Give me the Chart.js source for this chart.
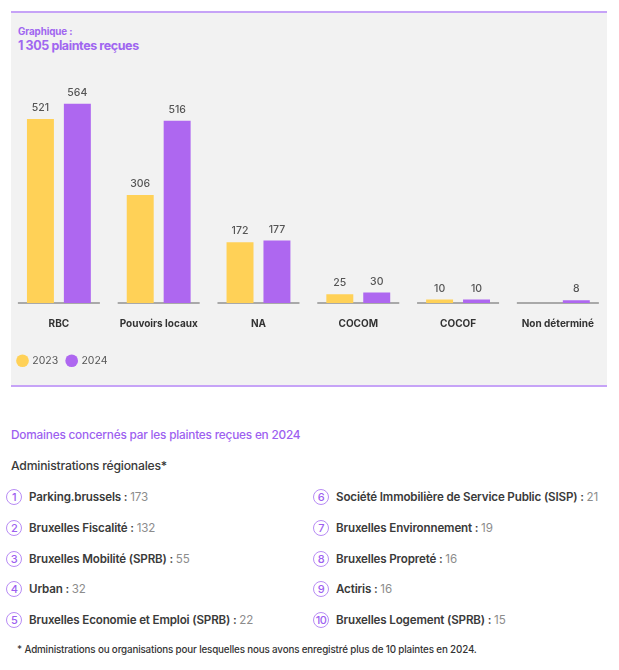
<!DOCTYPE html>
<html>
<head>
<meta charset="utf-8">
<script src="https://cdn.jsdelivr.net/npm/chart.js@4.4.1/dist/chart.umd.min.js"></script>
<style>
  html, body { margin: 0; padding: 0; background: #ffffff; }
  body { width: 619px; height: 670px; position: relative; overflow: hidden; font-family: Inter, "Noto Sans", sans-serif; }
  #panel { position: absolute; left: 11px; top: 11px; width: 596px; height: 376px; background: #f2f2f2;
           border-top: 2px solid #c6a3f7; border-bottom: 2px solid #c6a3f7; box-sizing: border-box; }
  #t1 { position: absolute; left: 18px; top: 26px; font-size: 9.8px; font-weight: 700; color: #a066f0; letter-spacing: -0.1px; }
  #t2 { position: absolute; left: 18px; top: 38px; font-size: 12.5px; font-weight: 700; color: #a066f0; letter-spacing: -0.4px; }
  #chart { position: absolute; left: 9px; top: 56px; }
  #sub { position: absolute; left: 11px; top: 428px; font-size: 11.8px; font-weight: 500; color: #9d5ff0; letter-spacing: -0.2px; }
  #adm { position: absolute; left: 11px; top: 458px; font-size: 12.2px; font-weight: 500; color: #3a3a3a; letter-spacing: -0.2px; }
  .item { position: absolute; font-size: 11.6px; letter-spacing: -0.15px; white-space: nowrap; line-height: 14px; }
  .num { position: absolute; width: 14px; height: 14px; border: 1.3px solid #b88cf5; border-radius: 50%;
         color: #9d5ff0; font-size: 11px; line-height: 14px; text-align: center; font-weight: 500; letter-spacing: -0.6px; }
  .lab { position: absolute; font-weight: 600; color: #3a3a3a; }
  .val { color: #8c8c8c; font-weight: 400; }
  #foot { position: absolute; left: 17px; top: 644px; font-size: 9.8px; color: #333; letter-spacing: -0.15px; font-weight: 500; }
</style>
</head>
<body>
<div id="panel"></div>
<div id="t1">Graphique :</div>
<div id="t2">1 305 plaintes reçues</div>
<canvas id="chart" width="600" height="330"></canvas>
<div id="sub">Domaines concernés par les plaintes reçues en 2024</div>
<div id="adm">Administrations régionales*</div>
<div id="list"></div>
<div id="foot">* Administrations ou organisations pour lesquelles nous avons enregistré plus de 10 plaintes en 2024.</div>
<script>
const categories = ['RBC', 'Pouvoirs locaux', 'NA', 'COCOM', 'COCOF', 'Non déterminé'];
const seriesNames = ['2023', '2024'];
const values2023 = [521, 306, 172, 25, 10, null];
const values2024 = [564, 516, 177, 30, 10, 8];
const yTicks = [0, 600];

const domainNames = ['Parking.brussels', 'Bruxelles Fiscalité', 'Bruxelles Mobilité (SPRB)', 'Urban',
  'Bruxelles Economie et Emploi (SPRB)', 'Société Immobilière de Service Public (SISP)',
  'Bruxelles Environnement', 'Bruxelles Propreté', 'Actiris', 'Bruxelles Logement (SPRB)'];
const domainCounts = [173, 132, 55, 32, 22, 21, 19, 16, 16, 15];

const YELLOW = '#ffd157';
const PURPLE = '#ae67f0';

const baselinePlugin = {
  id: 'baseline',
  beforeDatasetsDraw(chart) {
    const {ctx, scales: {x, y}} = chart;
    const y0 = y.getPixelForValue(0);
    ctx.save();
    ctx.strokeStyle = '#a9a9a9';
    ctx.lineWidth = 2;
    categories.forEach((c, i) => {
      const cx = x.getPixelForValue(i);
      ctx.beginPath();
      ctx.moveTo(cx - 41, y0);
      ctx.lineTo(cx + 41, y0);
      ctx.stroke();
    });
    ctx.restore();
  }
};

const labelPlugin = {
  id: 'valueLabels',
  afterDatasetsDraw(chart) {
    const {ctx} = chart;
    ctx.save();
    ctx.font = '500 10.5px Inter, "Noto Sans", sans-serif';
    ctx.fillStyle = '#555555';
    ctx.textAlign = 'center';
    ctx.textBaseline = 'middle';
    chart.data.datasets.forEach((ds, di) => {
      const meta = chart.getDatasetMeta(di);
      meta.data.forEach((el, i) => {
        const v = ds.data[i];
        if (v === null || v === undefined) return;
        ctx.fillText(String(v), el.x, el.y - 11);
      });
    });
    ctx.restore();
  }
};

new Chart(document.getElementById('chart'), {
  type: 'bar',
  data: {
    labels: categories,
    datasets: [
      { label: seriesNames[0], data: values2023, backgroundColor: YELLOW, borderWidth: 0 },
      { label: seriesNames[1], data: values2024, backgroundColor: PURPLE, borderWidth: 0 }
    ]
  },
  options: {
    responsive: false,
    animation: false,
    devicePixelRatio: 1,
    categoryPercentage: 0.74,
    barPercentage: 0.73,
    layout: { padding: { top: 35, bottom: 10, left: 0, right: 0 } },
    scales: {
      x: {
        grid: { display: false, drawTicks: false },
        border: { display: false },
        ticks: { padding: 15, color: '#333333', font: { family: 'Inter', size: 10, weight: '700' } },
        afterFit(scale) { scale.height = 43.5; }
      },
      y: { display: false, min: yTicks[0], max: yTicks[1] }
    },
    plugins: {
      legend: {
        position: 'bottom',
        align: 'start',
        labels: {
          usePointStyle: true,
          pointStyle: 'circle',
          boxHeight: 9,
          boxWidth: 9,
          padding: 9,
          color: '#555555',
          font: { family: 'Inter', size: 10.5, weight: '400' }
        }
      },
      tooltip: { enabled: false }
    }
  },
  plugins: [baselinePlugin, labelPlugin]
});

const list = document.getElementById('list');
const rowY = [490, 521, 552, 582, 613];
domainNames.forEach((name, i) => {
  const col = i < 5 ? 0 : 1;
  const row = i % 5;
  const circleX = col === 0 ? 6 : 313;
  const textX = col === 0 ? 29 : 336;
  const y = rowY[row];
  const num = document.createElement('div');
  num.className = 'num';
  num.style.left = circleX + 'px';
  num.style.top = (y - 1) + 'px';
  num.textContent = String(i + 1);
  list.appendChild(num);
  const lab = document.createElement('div');
  lab.className = 'item lab';
  lab.style.left = textX + 'px';
  lab.style.top = y + 'px';
  lab.innerHTML = name + ' : <span class="val">' + domainCounts[i] + '</span>';
  list.appendChild(lab);
});
</script>
</body>
</html>
